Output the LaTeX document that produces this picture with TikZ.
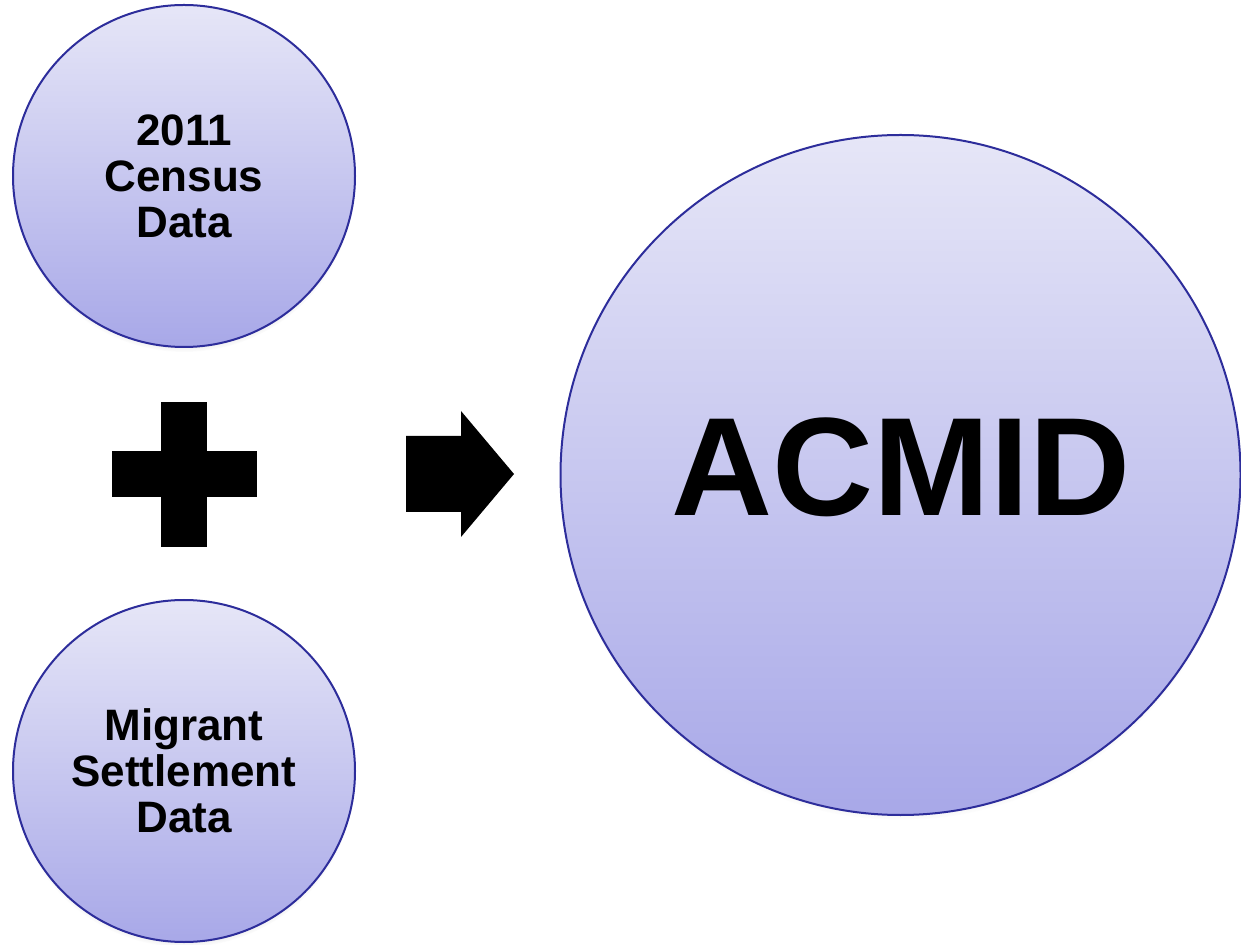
\documentclass[tikz,border=0pt]{standalone}
\usepackage{fontspec}
\setmainfont{Liberation Sans}
\usepackage{tikz}
\usetikzlibrary{arrows,positioning,shadows}
\definecolor{ringblue}{RGB}{45,45,155}
\definecolor{lavtop}{RGB}{230,230,247}
\definecolor{lavbot}{RGB}{168,168,232}
\tikzstyle{datacircle}=[draw=ringblue, line width=1pt, circle, top color=lavtop, bottom color=lavbot, inner sep=0, align=center, font=\bfseries\fontsize{22}{23}\selectfont, circular drop shadow={shadow scale=1, shadow xshift=0pt, shadow yshift=-2.5pt, opacity=0.5}]
\tikzstyle{bigcircle}=[datacircle, font=\bfseries\fontsize{70}{70}\selectfont]

\begin{document}
\begin{tikzpicture}[x=0.5pt,y=-0.5pt,node distance=297.5pt]
        \useasboundingbox (0,0) rectangle (1241,945);
        \node [datacircle, minimum size=171pt] (census) at (184,176) {2011\\Census\\Data};
        \node [datacircle, minimum size=171pt] (settle) [below of=census] {Migrant\\Settlement\\Data};
        \node [bigcircle, minimum size=340pt] (acmid) at (900.5,475) {};
        \node (acmidtext) at (901,467) {\bfseries\fontsize{70}{70}\selectfont ACMID};
        % plus sign
        \fill (161,402) rectangle (207,547);
        \fill (112,451) rectangle (257,497);
        % block arrow
        \fill (406,436) -- (461,436) -- (461,411) -- (514,474) -- (461,537) -- (461,512) -- (406,512) -- cycle;
    \end{tikzpicture}
\end{document}
